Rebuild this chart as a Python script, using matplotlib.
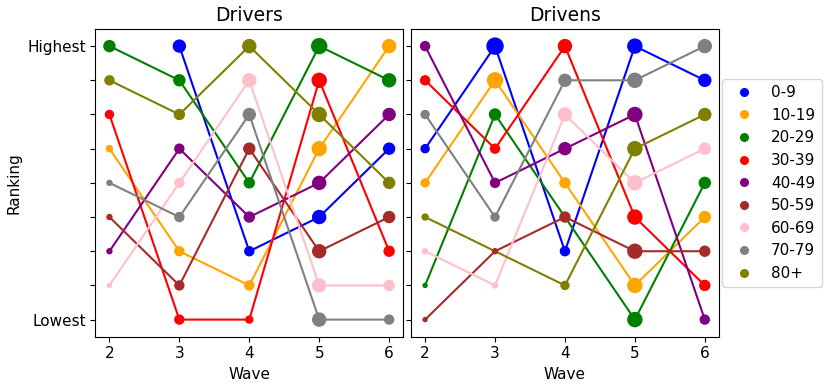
#!/usr/bin/env python3

import matplotlib
matplotlib.use('Agg')
import matplotlib.pyplot as plt
from matplotlib.lines import Line2D
import numpy as np

nan = np.nan

waves = [2, 3, 4, 5, 6]
groups = ['0-9', '10-19', '20-29', '30-39', '40-49', '50-59', '60-69', '70-79', '80+']
colors = ['blue', 'orange', 'green', 'red', 'purple', 'brown', 'pink', 'gray', 'olive']

# rankings (1 = lowest, 9 = highest), one row per age group
drivers_rank = [
    [nan, 9, 3, 4, 6],
    [6, 3, 2, 6, 9],
    [9, 8, 5, 9, 8],
    [7, 1, 1, 8, 3],
    [3, 6, 4, 5, 7],
    [4, 2, 6, 3, 4],
    [2, 5, 8, 2, 2],
    [5, 4, 7, 1, 1],
    [8, 7, 9, 7, 5],
]
drivens_rank = [
    [6, 9, 3, 9, 8],
    [5, 8, 5, 2, 4],
    [2, 7, nan, 1, 5],
    [8, 6, 9, 4, 2],
    [9, 5, 6, 7, 1],
    [1, 3, 4, 3, 3],
    [3, 2, 7, 5, 6],
    [7, 4, 8, 8, 9],
    [4, nan, 2, 6, 7],
]

# marker weight
drivers_weight = [
    [nan, 12, 9, 13, 11],
    [6, 9, 9, 14, 13],
    [11, 11, 10, 15, 13],
    [8, 9, 7, 14, 10],
    [5, 9, 10, 13, 12],
    [5, 9, 11, 13, 11],
    [4, 9, 13, 13, 10],
    [5, 9, 12, 13, 9],
    [9, 10, 13, 14, 11],
]
drivens_weight = [
    [8, 16, 9, 14, 12],
    [8, 15, 10, 14, 11],
    [4, 11, nan, 14, 11],
    [9, 9, 13, 14, 10],
    [9, 9, 12, 14, 9],
    [4, 5, 10, 14, 10],
    [5, 5, 13, 14, 11],
    [8, 8, 12, 14, 13],
    [6, nan, 8, 14, 12],
]


def draw_panel(ax, ranks, weights, title):
    for rank, weight, col in zip(ranks, weights, colors):
        x = np.array(waves, dtype=float)
        y = np.array(rank, dtype=float)
        w = np.array(weight, dtype=float)
        ok = ~np.isnan(y)
        ax.plot(x[ok], y[ok], color=col, lw=1.5)
        ax.scatter(x[ok], y[ok], s=(w[ok] * 0.72) ** 2, color=col, zorder=3)
    ax.set_title(title, fontsize=13.5)
    ax.set_xlabel('Wave', fontsize=11)
    ax.set_xticks(waves)
    ax.set_ylim(0.5, 9.5)
    ax.set_yticks(range(1, 10))
    ax.tick_params(labelsize=11)


fig, (ax1, ax2) = plt.subplots(1, 2, figsize=(8.3, 3.87), dpi=100, sharey=True)
fig.subplots_adjust(left=0.115, right=0.866, top=0.925, bottom=0.13, wspace=0.026)

draw_panel(ax1, drivers_rank, drivers_weight, 'Drivers')
draw_panel(ax2, drivens_rank, drivens_weight, 'Drivens')

ax1.set_yticklabels(['Lowest', '', '', '', '', '', '', '', 'Highest'])
ax1.set_ylabel('Ranking', fontsize=11)

handles = [Line2D([], [], marker='o', ls='none', color=c, markersize=5.5) for c in colors]
fig.legend(handles, groups, loc='center left', bbox_to_anchor=(0.861, 0.527), fontsize=11)

fig.savefig('out.png')
